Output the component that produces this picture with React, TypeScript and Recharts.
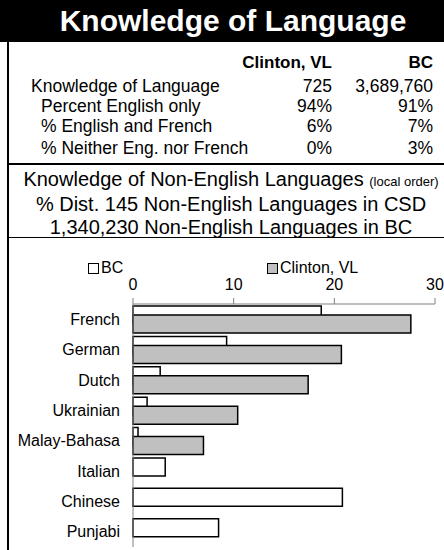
import { BarChart, Bar, XAxis, YAxis, Legend } from 'recharts';

const LANGUAGES = ['French', 'German', 'Dutch', 'Ukrainian', 'Malay-Bahasa', 'Italian', 'Chinese', 'Punjabi'];
const BC_PCT = [18.7, 9.3, 2.7, 1.4, 0.5, 3.2, 20.8, 8.5];
const CLINTON_PCT = [27.6, 20.7, 17.4, 10.4, 7.0, 0, 0, 0];
const X_TICKS = [0, 10, 20, 30];

const ROW_LABELS = ['Knowledge of Language', 'Percent English only', '% English and French', '% Neither Eng. nor French'];
const CLINTON_ROW = ['725', '94%', '6%', '0%'];
const BC_ROW = ['3,689,760', '91%', '7%', '3%'];

const FONT = 'Arial, "Liberation Sans", Helvetica, sans-serif';
const COLORS: Record<string, string> = { BC: '#ffffff', 'Clinton, VL': '#c0c0c0' };

const rows = LANGUAGES.map((language, i) => ({ language, bc: BC_PCT[i], clinton: CLINTON_PCT[i] }));

const ROW_Y = [86, 106, 126, 148];

function LegendContent({ payload }: any) {
    return (
        <div style={{ position: 'relative', height: 20, fontFamily: FONT }}>
            {(payload || []).map((p: any, i: number) => (
                <span key={p.value} style={{ position: 'absolute', left: i === 0 ? 88 : 267, top: 0, display: 'flex', alignItems: 'center', fontSize: 16, lineHeight: '20px', color: '#000' }}>
                    <span style={{ display: 'inline-block', width: 9, height: 9, border: '1px solid #000', background: COLORS[p.value], marginRight: 2 }} />
                    {p.value}
                </span>
            ))}
        </div>
    );
}

export default function App() {
    return (
        <div style={{ position: 'relative', width: 444, height: 550, overflow: 'hidden', background: '#fff', fontFamily: FONT, color: '#000' }}>
            <style>{'body{margin:0}'}</style>
            {/* title bar */}
            <div style={{ position: 'absolute', left: 0, top: 0, width: 466, height: 42, background: '#000', color: '#fff', fontWeight: 'bold', fontSize: 30, lineHeight: '42px', textAlign: 'center' }}>
                Knowledge of Language
            </div>
            <div style={{ position: 'absolute', left: 7, top: 42, width: 2, height: 508, background: '#000' }} />

            {/* summary table */}
            <div style={{ position: 'absolute', top: 53, left: 200, width: 132, textAlign: 'right', fontWeight: 'bold', fontSize: 17, lineHeight: '20px' }}>Clinton, VL</div>
            <div style={{ position: 'absolute', top: 53, left: 340, width: 93, textAlign: 'right', fontWeight: 'bold', fontSize: 17, lineHeight: '20px' }}>BC</div>
            {ROW_LABELS.map((label, i) => (
                <div key={label} style={{ position: 'absolute', top: ROW_Y[i] - 10, left: 0, width: 444, height: 20, fontSize: 17.5, lineHeight: '20px' }}>
                    <div style={{ position: 'absolute', left: i === 0 ? 31 : 41, whiteSpace: 'nowrap' }}>{label}</div>
                    <div style={{ position: 'absolute', left: 232, width: 100, textAlign: 'right' }}>{CLINTON_ROW[i]}</div>
                    <div style={{ position: 'absolute', left: 333, width: 100, textAlign: 'right' }}>{BC_ROW[i]}</div>
                </div>
            ))}
            <div style={{ position: 'absolute', left: 8, top: 163, width: 440, height: 2, background: '#000' }} />

            {/* sub titles */}
            <div style={{ position: 'absolute', left: 8, top: 168, width: 446, textAlign: 'center', fontSize: 20, lineHeight: '23px' }}>
                <div>Knowledge of Non-English Languages <span style={{ fontSize: 13 }}>(local order)</span></div>
                <div>% Dist. 145 Non-English Languages in CSD</div>
                <div>1,340,230 Non-English Languages in BC</div>
            </div>
            <div style={{ position: 'absolute', left: 8, top: 237, width: 440, height: 1, background: '#000' }} />

            {/* chart */}
            <div style={{ position: 'absolute', left: 0, top: 240 }}>
                <BarChart layout="vertical" width={470} height={310} data={rows}
                    margin={{ top: 34, right: 35, bottom: 3, left: 8 }} barSize={18} barGap={-9}>
                    <XAxis type="number" orientation="top" domain={[0, 30]} ticks={X_TICKS} height={30}
                        axisLine={{ stroke: '#808080' }} tickLine={{ stroke: '#808080' }} tickSize={6} tickMargin={8}
                        tick={{ fontSize: 16, fill: '#000', fontFamily: FONT }} />
                    <YAxis type="category" dataKey="language" width={125} interval={0} tickSize={0} tickMargin={13}
                        axisLine={{ stroke: '#808080' }} tickLine={false}
                        tick={{ fontSize: 16, fill: '#000', fontFamily: FONT }} />
                    <Legend verticalAlign="middle" align="center" layout="horizontal" content={<LegendContent />}
                        wrapperStyle={{ top: 18, left: 0, width: 470 }} />
                    <Bar dataKey="bc" name="BC" fill={COLORS.BC} stroke="#000" strokeWidth={1.5} isAnimationActive={false} />
                    <Bar dataKey="clinton" name="Clinton, VL" fill={COLORS['Clinton, VL']} stroke="#000" strokeWidth={1.5} isAnimationActive={false} />
                </BarChart>
            </div>
        </div>
    );
}
